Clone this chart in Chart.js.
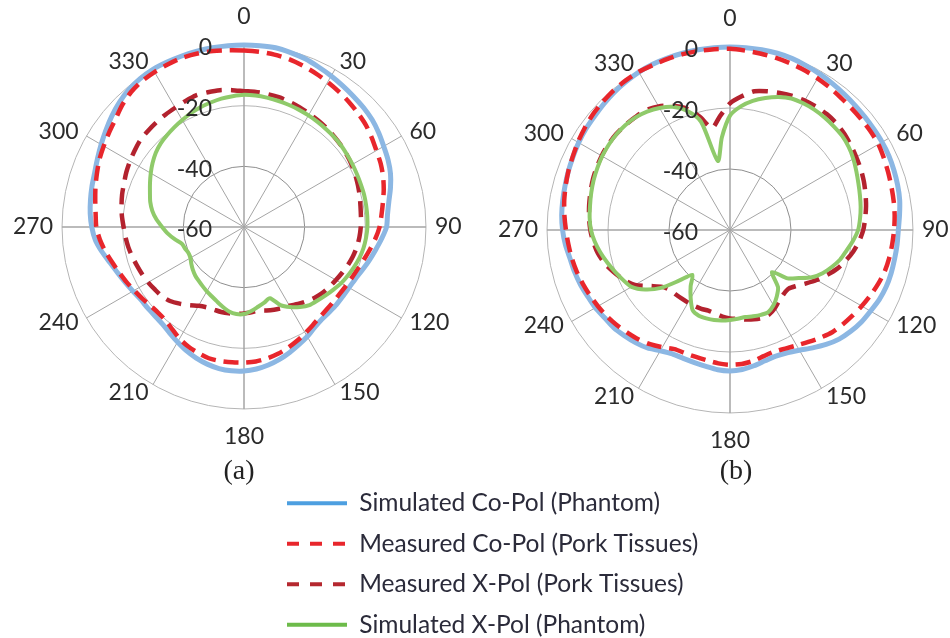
<!DOCTYPE html>
<html>
<head>
<meta charset="utf-8">
<title>Radiation patterns (a) and (b)</title>
<script src="https://cdn.jsdelivr.net/npm/chart.js@4.4.1/dist/chart.umd.min.js"></script>
<style>
  html, body { margin: 0; padding: 0; background: #fff; }
  body { position: relative; width: 950px; height: 638px; overflow: hidden; }
  canvas { position: absolute; }
  #chartA { left: 7px; top: -4px; }
  #chartB { left: 492px; top: -2px; }
  #legendChart { left: 271px; top: 475px; }
  .caption {
    position: absolute;
    top: 453px;
    width: 60px;
    text-align: center;
    font: 28px "Liberation Serif", serif;
    line-height: 34px;
    color: #222;
  }
</style>
</head>
<body>
<canvas id="chartA" width="462" height="462"></canvas>
<canvas id="chartB" width="464" height="464"></canvas>
<div class="caption" style="left:209px">(a)</div>
<div class="caption" style="left:706px">(b)</div>
<canvas id="legendChart" width="470" height="380"></canvas>
<script>
// sample angles, degrees clockwise from the top
const angles = [0, 5, 10, 15, 20, 25, 30, 35, 40, 45, 50, 55, 60, 65, 70, 75, 80, 85,
  90, 95, 100, 105, 110, 115, 120, 125, 130, 135, 140, 145, 150, 155, 160, 165, 170, 175,
  180, 185, 190, 195, 200, 205, 210, 215, 220, 225, 230, 235, 240, 245, 250, 255, 260, 265,
  270, 275, 280, 285, 290, 295, 300, 305, 310, 315, 320, 325, 330, 335, 340, 345, 350, 355]

const seriesNames = [
  "Simulated Co-Pol (Phantom)",
  "Measured Co-Pol (Pork Tissues)",
  "Measured X-Pol (Pork Tissues)",
  "Simulated X-Pol (Phantom)",
]

// (a) - gain in dB
const simCoPolA = [0, 0, 0, -0.5, -1, -1.8, -2.5, -3.2, -3.8, -4.3, -4.9, -5.8, -6.8, -7.6, -8.6, -10, -11.5, -12.5,
  -13, -14.5, -16, -17.3, -18.5, -19.5, -20, -20.2, -20.2, -20.3, -20.2, -19.5, -18.3, -17.2, -16, -14.8, -13.8, -13,
  -12.5, -12.4, -12.6, -13.2, -14, -15, -16.2, -17.3, -18.2, -18.5, -18.5, -18.4, -17.7, -16.8, -15.7, -14.3, -12.5, -10.8,
  -9.8, -9.1, -8.6, -8.1, -7.6, -6.7, -5.6, -4.4, -3.1, -1.9, -0.9, -0.3, 0, 0, 0, 0, 0, 0]
const measCoPolA = [-1.8, -2, -2.3, -2.7, -3.4, -4.1, -4.8, -5.5, -6.2, -6.9, -7.6, -8.6, -9.6, -10.3, -11.2, -12.3, -13.5, -14.5,
  -15.3, -16.5, -17.8, -19, -20, -20.7, -21.2, -21.5, -21.6, -21.5, -21.2, -20.5, -19.6, -18.6, -17.6, -16.7, -16, -15.5,
  -15.3, -15.2, -15.1, -15.2, -15.8, -16.5, -17.5, -18.8, -19.8, -20, -19.7, -19, -18.2, -17.2, -16.2, -15, -13.6, -12.3,
  -11.3, -10.9, -10.2, -9.3, -8.4, -7.4, -6.6, -5.7, -4.7, -3.2, -2, -1.3, -1, -0.8, -0.6, -0.8, -1.1, -1.5]
const measXPolA = [-15.2, -15.3, -15.5, -15.7, -16.1, -16.5, -16.9, -17.2, -17.5, -17.9, -18.2, -18.6, -19, -19.5, -20, -20.5, -21, -21.3,
  -21.5, -21.8, -22.2, -22.8, -23.5, -24.3, -25, -25.6, -26.2, -27, -28, -29, -30, -30.5, -31, -31.5, -32, -31.8,
  -31.5, -31.3, -31.1, -31, -31, -30.8, -30, -28.5, -27, -25.5, -24.6, -24.1, -23.5, -23, -22.5, -21.9, -21.3, -20.8,
  -20.3, -19.6, -19, -18.4, -17.9, -17.2, -16.6, -16, -15.4, -15.2, -15, -14.8, -14.6, -14.2, -13.8, -14, -14.2, -14.7]
const simXPolA = [-16.4, -16.5, -16.7, -16.9, -17.1, -17.3, -17.5, -17.7, -17.9, -18, -18.2, -18.5, -18.7, -18.9, -19, -19, -19.1, -19.2,
  -19.3, -19.6, -20, -20.6, -21.4, -22.2, -23, -24, -24.9, -25.7, -26.4, -27.8, -29.5, -31.6, -35, -34.2, -33.3, -32.2,
  -31.3, -31.2, -31.7, -32.8, -33.9, -34.8, -35.5, -36.2, -36.8, -37.3, -38, -38.8, -39.6, -39.8, -39.3, -38.8, -36.8, -34.8,
  -33, -31, -29.3, -28, -27, -25.8, -24.5, -23.2, -22, -21.1, -20.5, -19.9, -19.3, -18.6, -18, -17.5, -17, -16.7]

// (b) - gain in dB
const simCoPolB = [0, 0, 0, 0, -0.2, -0.6, -1, -1.4, -1.8, -2.1, -2.3, -2.4, -2.4, -2.5, -2.8, -3.1, -3.5, -4.2,
  -4.8, -5, -5.2, -5.3, -5.5, -6, -6.8, -7.4, -8.3, -9.4, -11, -12.8, -14.5, -15.6, -16, -15.6, -14.8, -14.1,
  -13.8, -14, -14.6, -15, -15.2, -15.2, -14.3, -12.8, -11.8, -11, -10.2, -9.8, -9, -8.5, -7.8, -7.2, -6.7, -5.8,
  -5.1, -4.6, -4.3, -4, -3.6, -3.2, -2.7, -2.3, -2, -1.5, -1, -0.6, -0.2, 0, 0, 0, 0, 0]
const measCoPolB = [-0.6, -1, -1.3, -1.6, -1.9, -2.2, -2.6, -3, -3.4, -3.6, -3.7, -3.7, -3.8, -4.3, -4.8, -5.2, -5.5, -5.8,
  -6.2, -6.6, -7, -7.5, -8.3, -9.2, -10.1, -11, -11.8, -12.6, -13.9, -15.2, -16.3, -17.1, -17.6, -17.2, -16.4, -15.9,
  -15.8, -16.1, -16.6, -16.9, -17, -16.9, -15.6, -14.3, -13.2, -12.4, -11.5, -10.7, -10, -9.3, -8.6, -7.9, -7.3, -6.8,
  -6.2, -5.5, -4.8, -4.2, -3.6, -3.1, -2.4, -1.8, -1.2, -0.8, -0.4, -0.2, -0.1, -0.3, -0.3, -0.3, -0.4, -0.5]
const measXPolB = [-18.5, -16, -13.8, -12.9, -12.2, -11.5, -11, -10.7, -10.5, -10.6, -11, -11.6, -12.2, -12.7, -13.3, -14, -14.7, -15.5,
  -16.3, -17.5, -19, -20.8, -22.7, -25, -27.2, -29.5, -31.5, -32.8, -32.6, -31.8, -30.5, -29.5, -29.3, -29.7, -30.2, -30.7,
  -31, -31.5, -32.2, -32.6, -32.5, -32.5, -32.5, -32.5, -32.4, -32.2, -31, -28, -24, -21.5, -19.5, -17.5, -16, -15,
  -14.2, -13.6, -13.1, -12.6, -12.1, -11.7, -11.4, -11.2, -11.2, -11.4, -11.7, -12, -13.2, -15, -17.5, -21.5, -26, -22.5]
const simXPolB = [-22.5, -19.3, -17, -15.2, -13.6, -12.4, -12, -11.8, -11.8, -11.9, -12, -12.5, -13.3, -14.3, -15.2, -15.9, -16.5, -17.2,
  -18, -19.5, -21.2, -22.6, -24.5, -26.5, -29, -32.5, -35.3, -40.5, -35.5, -33.3, -31.5, -30.3, -30.4, -30.7, -31, -30.8,
  -30.5, -30.2, -30, -30, -30.1, -31, -34.2, -37.5, -40.8, -36.6, -30.5, -26, -22.7, -21.3, -19.9, -18.4, -16.9, -15.5,
  -14.4, -13.8, -13.4, -12.9, -12.4, -12, -11.6, -11.4, -11.3, -11.4, -11.8, -12.6, -13.8, -15.4, -18.3, -23.2, -37, -29.5]

// draw order: green on top, blue at the bottom
const lineStyles = [
  { borderColor: "#8cb7e3", borderWidth: 5, borderDash: [], order: 4 },
  { borderColor: "#e8262c", borderWidth: 4.5, borderDash: [15, 8], order: 3 },
  { borderColor: "#b3222e", borderWidth: 4.5, borderDash: [16, 9], order: 2 },
  { borderColor: "#8fca6a", borderWidth: 4, borderDash: [], order: 1 },
]
const legendColors = ["#4d9fe0", "#e8262c", "#b5282f", "#6dbb4a"]

// radial tick labels sit to the left of the vertical spoke
const tickLabels = {
  id: "tickLabels",
  afterDraw(chart) {
    const r = chart.scales.r
    const ctx = chart.ctx
    ctx.save()
    ctx.font = "23px Lato"
    ctx.fillStyle = "#2b2b2b"
    ctx.textAlign = "right"
    ctx.textBaseline = "middle"
    r.ticks.forEach((t) => {
      const d = r.getDistanceFromCenterForValue(t.value)
      ctx.fillText(String(t.value), r.xCenter - 32, r.yCenter - d + 3)
    })
    ctx.restore()
  },
}

function makePolar(id, series) {
  return new Chart(document.getElementById(id), {
    type: "radar",
    data: {
      labels: angles,
      datasets: series.map((values, i) => ({
        label: seriesNames[i],
        data: values,
        ...lineStyles[i],
        fill: false,
        pointRadius: 0,
        tension: 0.25,
      })),
    },
    options: {
      responsive: false,
      animation: false,
      events: [],
      plugins: {
        legend: { display: false },
        tooltip: { enabled: false },
      },
      scales: {
        r: {
          min: -60,
          max: 0,
          ticks: { stepSize: 20, display: false },
          grid: {
            circular: true,
            color: (ctx) => (ctx.tick && ctx.tick.value === -40 ? "#8e8e8e" : "#b5b5b5"),
            lineWidth: 1,
          },
          angleLines: {
            color: "#a5a5a5",
            lineWidth: (ctx) => (ctx.index % 6 !== 0 ? 0 : ctx.index % 18 === 0 ? 1.5 : 1),
          },
          pointLabels: {
            callback: (label) => (label % 30 === 0 ? String(label) : ""),
            padding: (ctx) => (ctx.index % 36 === 0 ? 28 : 9),
            color: "#2b2b2b",
            font: { family: "Lato", size: 23, lineHeight: 0 },
          },
        },
      },
    },
    plugins: [tickLabels],
  })
}

makePolar("chartA", [simCoPolA, measCoPolA, measXPolA, simXPolA])
makePolar("chartB", [simCoPolB, measCoPolB, measXPolB, simXPolB])

// shared legend below both plots
const legendDash = [[], [12, 11], [12, 11], []]

new Chart(document.getElementById("legendChart"), {
  type: "line",
  data: {
    labels: [],
    datasets: seriesNames.map((name, i) => ({
      label: name,
      data: [],
      borderColor: legendColors[i],
      backgroundColor: legendColors[i],
      borderWidth: 4,
    })),
  },
  options: {
    responsive: false,
    animation: false,
    events: [],
    scales: { x: { display: false }, y: { display: false } },
    plugins: {
      tooltip: { enabled: false },
      legend: {
        position: "top",
        align: "start",
        labels: {
          usePointStyle: true,
          pointStyle: "line",
          pointStyleWidth: 60,
          padding: 16,
          color: "#2b2b3a",
          font: { family: "Lato", size: 24.5 },
          // point-style items don't carry the dash, so add it back
          generateLabels: (chart) =>
            Chart.defaults.plugins.legend.labels.generateLabels(chart).map((item) => ({
              ...item,
              lineWidth: 4,
              lineDash: legendDash[item.datasetIndex],
            })),
        },
      },
    },
  },
})
</script>
</body>
</html>
